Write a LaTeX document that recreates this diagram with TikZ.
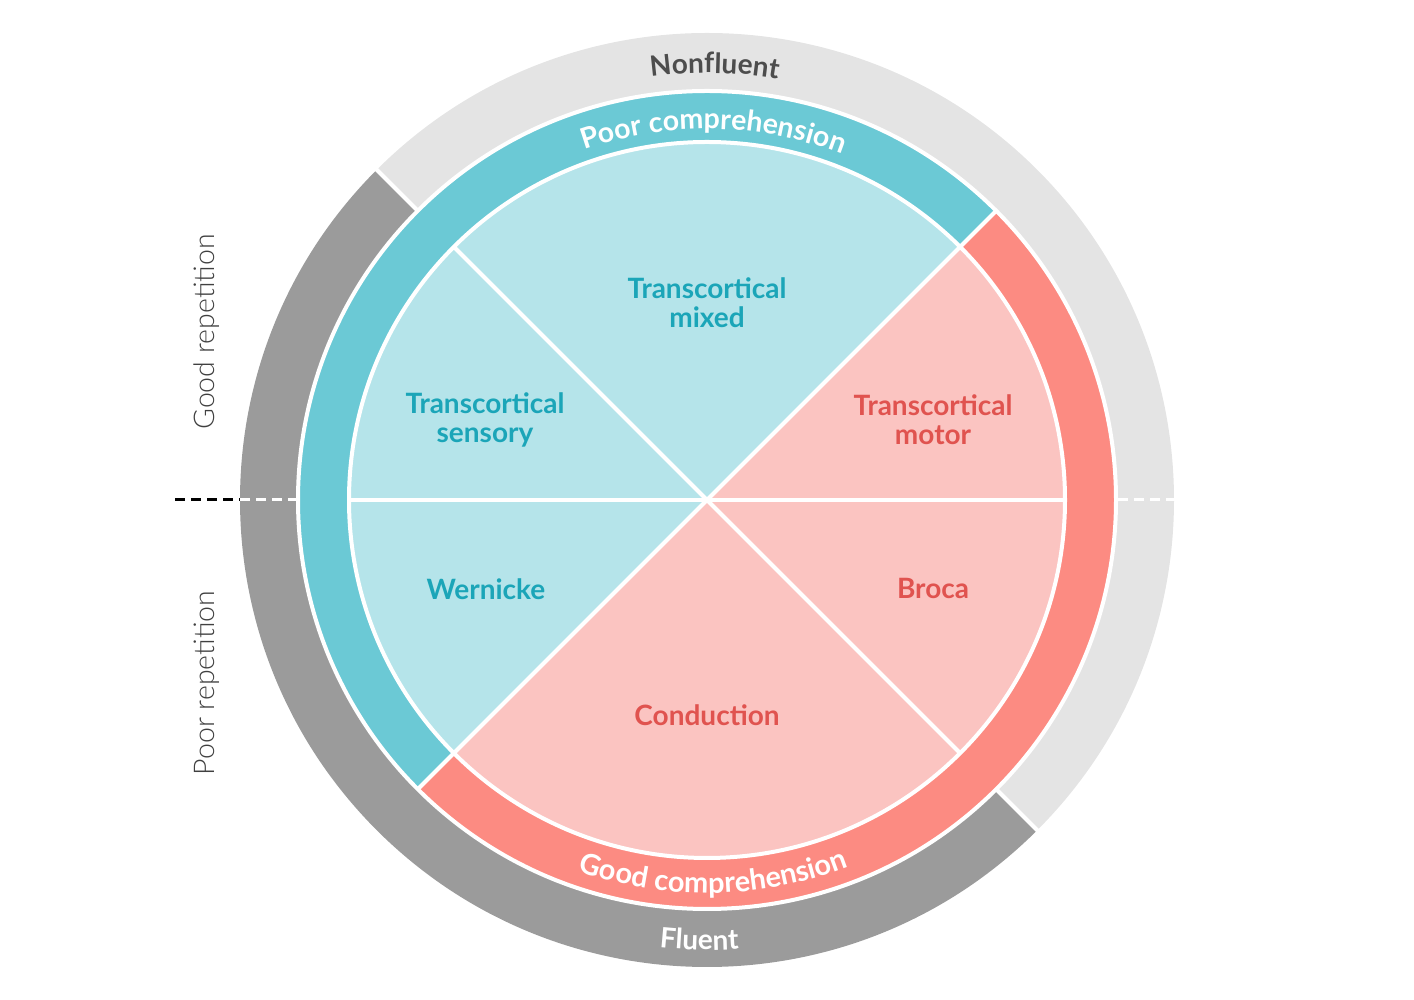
\documentclass[tikz,border=0pt]{standalone}
\usepackage{fontspec}
\setmainfont{Lato}
\newfontfamily\latolight{Lato Light}
\usetikzlibrary{calc,decorations.text}
\definecolor{tealring}{HTML}{6BC9D5}
\definecolor{tealfill}{HTML}{B5E4EA}
\definecolor{tealtext}{HTML}{1BA5B8}
\definecolor{redring}{HTML}{FC8B82}
\definecolor{redfill}{HTML}{FBC4C1}
\definecolor{redtext}{HTML}{E0534F}
\definecolor{darkring}{HTML}{9B9B9B}
\definecolor{lightring}{HTML}{E4E4E4}
\definecolor{nftext}{HTML}{4D4D4D}
\definecolor{reptext}{HTML}{404040}
\newcommand\annsec[5]{%
  \fill[#1] ($(C)+(#2:#5)$) arc[start angle=#2, end angle=#3, radius=#5]
    -- ($(C)+(#3:#4)$) arc[start angle=#3, end angle=#2, radius=#4] -- cycle;}
\tikzset{
  sep/.style={white, line width=4pt},
  lbl/.style={font=\bfseries\fontsize{28}{29}\selectfont, align=center},
  teallbl/.style={lbl, text=tealtext},
  redlbl/.style={lbl, text=redtext},
  replbl/.style={font=\latolight\fontsize{28.5}{29}\selectfont, text=reptext, rotate=90},
  dashline/.style={line width=3pt, dash pattern=on 10pt off 6pt},
}
\begin{document}
\begin{tikzpicture}[x=1pt,y=1pt]
\useasboundingbox (0,0) rectangle (1414,1000);
\coordinate (C) at (707,500);
% outer ring
\annsec{lightring}{-45}{135}{409}{467}
\annsec{darkring}{135}{315}{409}{467}
% middle ring
\annsec{tealring}{45}{225}{358}{409}
\annsec{redring}{225}{405}{358}{409}
% pie
\fill[tealfill] (C) -- ($(C)+(45:358)$) arc[start angle=45, end angle=225, radius=358] -- cycle;
\fill[redfill] (C) -- ($(C)+(225:358)$) arc[start angle=225, end angle=405, radius=358] -- cycle;
% separators
\draw[sep] (C) circle[radius=358];
\draw[sep] (C) circle[radius=409];
\draw[sep] ($(C)+(180:358)$) -- ($(C)+(0:358)$);
\draw[sep] ($(C)+(225:409)$) -- ($(C)+(45:409)$);
\draw[sep] ($(C)+(135:358)$) -- ($(C)+(315:358)$);
\draw[sep] ($(C)+(135:409)$) -- ($(C)+(135:469)$);
\draw[sep] ($(C)+(315:409)$) -- ($(C)+(315:469)$);
% dashed divider
\coordinate (dl1) at (175,500);
\coordinate (dl2) at (240,500);
\coordinate (dl3) at (297,500);
\coordinate (dr1) at (1118,500);
\coordinate (dr2) at (1175,500);
\draw[dashline, black] (dl1) -- (dl2);
\draw[dashline, white] (dl2) -- (dl3);
\draw[dashline, white] (dr1) -- (dr2);
% ring texts
\path[decorate, decoration={text along path, text align=center,
  text={|\bfseries\fontsize{28}{28}\selectfont\color{nftext}|Nonfluent}}]
  ($(C)+(119:427)$) arc[start angle=119, end angle=59, radius=427];
\path[decorate, decoration={text along path, text align=center,
  text={|\bfseries\fontsize{28.5}{29}\selectfont\color{white}|Poor comprehension}}]
  ($(C)+(125:371)$) arc[start angle=125, end angle=53, radius=371];
\path[decorate, decoration={text along path, text align=center,
  text={|\bfseries\fontsize{29}{29}\selectfont\color{white}|Good comprehension}}]
  ($(C)+(231:393)$) arc[start angle=231, end angle=311, radius=393];
\path[decorate, decoration={text along path, text align=center,
  text={|\bfseries\fontsize{28}{28}\selectfont\color{white}|Fluent}}]
  ($(C)+(239:450)$) arc[start angle=239, end angle=299, radius=450];
% pie labels
\node[teallbl] (tmixed) at (707,697) {Transcortical\\mixed};
\node[teallbl] (tsens) at (485,580) {Transcortical\\sensory};
\node[redlbl] (tmotor) at (933,580) {Transcortical\\motor};
\node[teallbl] (wern) at (486,411) {Wernicke};
\node[redlbl] (broca) at (933,411) {Broca};
\node[redlbl] (cond) at (707,285) {Conduction};
% side labels
\node[replbl] (goodrep) at (207,668) {Good repetition};
\node[replbl] (poorrep) at (207,317) {Poor repetition};
\end{tikzpicture}
\end{document}
